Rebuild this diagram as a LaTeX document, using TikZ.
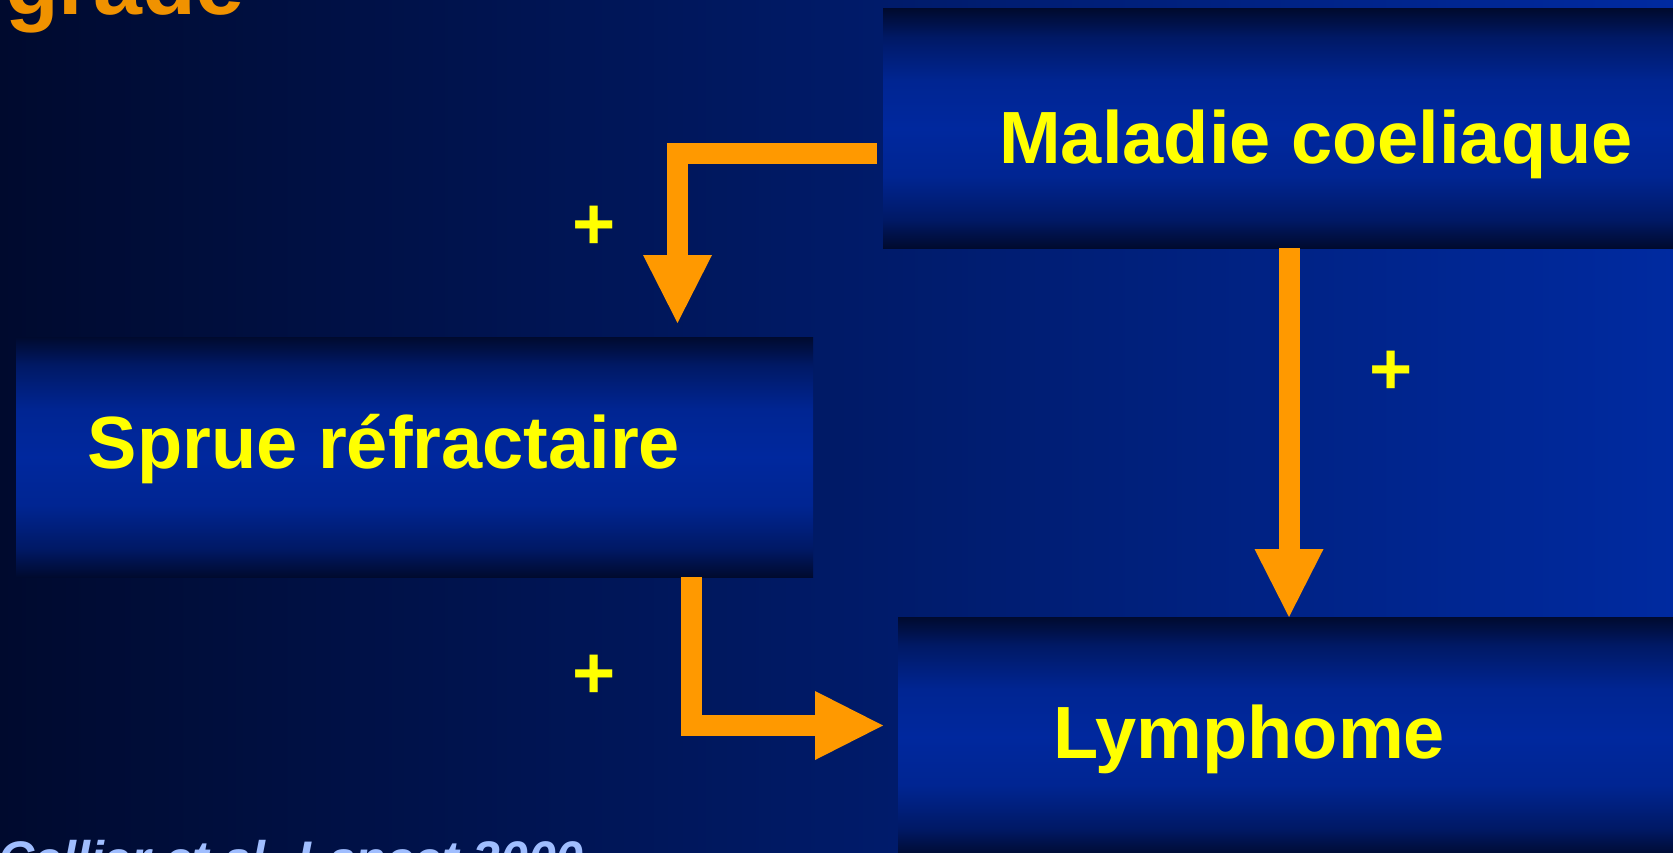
\documentclass[tikz,border=0pt]{standalone}
\usepackage{fontspec}
\setmainfont{Liberation Sans}
\usetikzlibrary{arrows.meta}
\definecolor{bgL}{RGB}{0,10,46}
\definecolor{bgR}{RGB}{0,42,160}
\definecolor{bxD}{RGB}{0,10,46}
\definecolor{bxM}{RGB}{0,40,158}
\definecolor{bxA}{RGB}{0,25,102}
\definecolor{bxB}{RGB}{0,37,146}
\definecolor{arrC}{RGB}{255,153,0}
\definecolor{ttlC}{RGB}{240,146,0}
\definecolor{citC}{RGB}{160,190,255}
\definecolor{txtY}{RGB}{255,255,0}
\pgfdeclareverticalshading{boxshade}{100bp}{color(0bp)=(bxD); color(25bp)=(bxD); color(31bp)=(bxA); color(40bp)=(bxB); color(50bp)=(bxM); color(60bp)=(bxB); color(69bp)=(bxA); color(75bp)=(bxD); color(100bp)=(bxD)}
\begin{document}
\begin{tikzpicture}[x=1pt,y=-1pt,
  box/.style={anchor=north west, inner sep=0pt, outer sep=0pt, draw=none, shading=boxshade},
  lbl/.style={anchor=base, inner sep=0pt, text=txtY, font=\bfseries\fontsize{74}{74}\selectfont},
  conn/.style={draw=arrC, line width=21pt, line join=miter,
    -{Triangle[length=68pt,width=69pt,line width=0pt 0]}}]
\useasboundingbox (0,0) rectangle (1673,853);
\clip (0,0) rectangle (1673,853);
\shade[left color=bgL,right color=bgR] (0,0) rectangle (1673,853);
% boxes
\node[box, minimum width=817pt, minimum height=239pt] (mc) at (883,9) {};
\node[box, minimum width=797pt, minimum height=240pt] (sr) at (16,337) {};
\node[box, minimum width=800pt, minimum height=240pt] (ly) at (898,617) {};
% texts
\node[lbl] (mct) at (1316,164) {Maladie coeliaque};
\node[lbl] (srt) at (384,468) {Sprue réfractaire};
\node[lbl] (lyt) at (1249,758) {Lymphome};
% plus signs
\node[lbl] (p1) at (594.5,250) {+};
\node[lbl] (p2) at (1391,394) {+};
\node[lbl] (p3) at (594.5,698) {+};
% connectors
\draw[conn, shorten <=6pt, shorten >=14pt] (mc.west |- 0,153.5) -| (sr.north -| 677.5,0);
\draw[conn, shorten >=15pt] (sr.south -| 691.5,0) |- (ly.west |- 0,725.5);
\draw[conn] (mc.south -| 1289,0) -- (ly.north -| 1289,0);
% title and citation (cut by the frame)
\node[anchor=base east, inner sep=0pt, text=ttlC, font=\bfseries\fontsize{88}{88}\selectfont] (ttl) at (245,15) {grade};
\node[anchor=base east, inner sep=0pt, text=citC, font=\bfseries\itshape\fontsize{50}{50}\selectfont] (cit) at (584,876) {Cellier et al. Lancet 2000};
\end{tikzpicture}
\end{document}
